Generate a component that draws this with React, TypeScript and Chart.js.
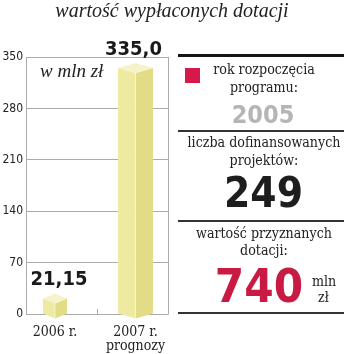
import React, { useEffect, useRef } from "react";
import { Chart, registerables } from "chart.js";

Chart.register(...registerables);

// ---- data ----
const categories: (string | string[])[] = ["2006 r.", ["2007 r.", "prognozy"]];
const values: number[] = [21.15, 335.0];
const valueLabels: string[] = ["21,15", "335,0"];
const yTickStep = 70;
const yMax = 350;
const titleText = "wartość wypłaconych dotacji";
const unitText = "w mln zł";
const startYearLabel = ["rok rozpoczęcia", "programu:"];
const startYear = "2005";
const projectsLabel = ["liczba dofinansowanych", "projektów:"];
const projects = "249";
const grantedLabel = ["wartość przyznanych", "dotacji:"];
const granted = "740";
const grantedUnit = ["mln", "zł"];

// ---- style ----
const barThickness = [24, 35];
const DEPTH = 5;
const FACE_LEFT = "#EEEAA2";
const FACE_RIGHT = "#E3DC86";
const FACE_TOP = "#F6F3CA";
const GRID = "#ababab";
const SANS_C = "'DejaVu Sans Condensed', 'DejaVu Sans', sans-serif";
const SERIF_C = "'DejaVu Serif Condensed', 'DejaVu Serif', serif";
const TIMES = "'Liberation Serif', serif";

const framePlugin = {
  id: "frame",
  beforeDatasetsDraw(chart: any) {
    const { ctx, chartArea } = chart;
    const xs = chart.scales.x;
    ctx.save();
    ctx.strokeStyle = GRID;
    ctx.lineWidth = 1;
    ctx.beginPath();
    const r = Math.round(chartArea.right) + 0.5;
    ctx.moveTo(r, chartArea.top);
    ctx.lineTo(r, chartArea.bottom + 0.5);
    const mid = Math.round(xs.getPixelForValue(0.52)) + 0.5;
    ctx.moveTo(mid, chartArea.bottom - 5);
    ctx.lineTo(mid, chartArea.bottom);
    ctx.stroke();
    ctx.restore();
  },
};

const prismPlugin = {
  id: "prism",
  afterDatasetsDraw(chart: any) {
    const ctx = chart.ctx;
    chart.data.datasets.forEach((ds: any, di: number) => {
      const meta = chart.getDatasetMeta(di);
      meta.data.forEach((el: any) => {
        const { x, y, base, width } = el.getProps(["x", "y", "base", "width"], true);
        const xl = x - width / 2;
        const xr = x + width / 2;
        const d = DEPTH;
        ctx.save();
        ctx.fillStyle = FACE_LEFT;
        ctx.beginPath();
        ctx.moveTo(xl, y);
        ctx.lineTo(x, y + d);
        ctx.lineTo(x, base + d);
        ctx.lineTo(xl, base);
        ctx.closePath();
        ctx.fill();
        ctx.fillStyle = FACE_RIGHT;
        ctx.beginPath();
        ctx.moveTo(x, y + d);
        ctx.lineTo(xr, y);
        ctx.lineTo(xr, base);
        ctx.lineTo(x, base + d);
        ctx.closePath();
        ctx.fill();
        ctx.fillStyle = FACE_TOP;
        ctx.beginPath();
        ctx.moveTo(xl, y);
        ctx.lineTo(x, y - d);
        ctx.lineTo(xr, y);
        ctx.lineTo(x, y + d);
        ctx.closePath();
        ctx.fill();
        ctx.strokeStyle = "rgba(255,255,255,0.6)";
        ctx.lineWidth = 1;
        ctx.beginPath();
        ctx.moveTo(x, y + d);
        ctx.lineTo(x, base + d);
        ctx.stroke();
        ctx.fillStyle = "#1a1a1a";
        ctx.font = `bold 20px ${SANS_C}`;
        ctx.textAlign = "center";
        ctx.textBaseline = "alphabetic";
        ctx.fillText(ds.valueLabel, x + ds.labelDx, y - d - 8);
        ctx.restore();
      });
    });
  },
};

function Txt(props: {
  text: string;
  baseline: number;
  size: number;
  family: string;
  asc: number;
  desc: number;
  left?: number;
  center?: number;
  weight?: string | number;
  italic?: boolean;
  color?: string;
  sx?: number;
}) {
  const { text, baseline, size, family, asc, desc, left, center, weight, italic, color, sx } = props;
  const style: React.CSSProperties = {
    position: "absolute",
    top: baseline - asc * size,
    lineHeight: `${(asc + desc) * size}px`,
    fontSize: size,
    fontFamily: family,
    fontWeight: weight ?? "normal",
    fontStyle: italic ? "italic" : "normal",
    color: color ?? "#222",
    whiteSpace: "nowrap",
  };
  if (sx) {
    style.transform = `scaleX(${sx})`;
    style.transformOrigin = center !== undefined ? "center" : "left";
  }
  if (center !== undefined) {
    style.left = center - 150;
    style.width = 300;
    style.textAlign = "center";
  } else {
    style.left = left;
  }
  return <div style={style}>{text}</div>;
}

const DJ = { asc: 0.928, desc: 0.236 };
const LS = { asc: 0.891, desc: 0.216 };
const SX = 0.94;

export default function App() {
  const ref = useRef<HTMLCanvasElement | null>(null);

  useEffect(() => {
    if (!ref.current) return;
    const labelDx = [4, -2];
    const chart = new Chart(ref.current, {
      type: "bar",
      data: {
        datasets: values.map((v, i) => ({
          data: [{ x: i, y: v }],
          valueLabel: valueLabels[i],
          labelDx: labelDx[i],
          backgroundColor: "rgba(0,0,0,0)",
          borderWidth: 0,
          barThickness: barThickness[i],
          grouped: false,
        })) as any,
      },
      options: {
        animation: false,
        responsive: false,
        devicePixelRatio: 1,
        layout: { padding: { left: 0, right: 182, top: 57, bottom: 0 } },
        plugins: { legend: { display: false }, tooltip: { enabled: false }, title: { display: false } },
        scales: {
          x: {
            type: "linear",
            offset: false,
            min: -0.36,
            max: 1.404,
            grid: { display: false, drawTicks: false },
            border: { display: false },
            afterBuildTicks: (s: any) => {
              s.ticks = categories.map((_, i) => ({ value: i }));
            },
            afterFit: (s: any) => {
              s.height = 40;
            },
            ticks: {
              autoSkip: false,
              maxRotation: 0,
              padding: 11,
              color: "#222",
              font: { family: SERIF_C, size: 14, lineHeight: 1.0 },
              callback: (v: any) => categories[v as number] ?? "",
            },
          },
          y: {
            min: 0,
            max: yMax,
            grid: { color: GRID, lineWidth: 1, drawTicks: false },
            border: { display: true, color: GRID },
            afterFit: (s: any) => {
              s.width = 26;
            },
            ticks: {
              stepSize: yTickStep,
              padding: 3,
              color: "#222",
              font: { family: SANS_C, size: 12 },
            },
          },
        },
      } as any,
      plugins: [framePlugin, prismPlugin],
    });
    return () => chart.destroy();
  }, []);

  const C = 263.5;
  return (
    <div style={{ position: "fixed", left: 0, top: 0, width: 350, height: 354, background: "#fff", overflow: "hidden" }}>
      <canvas ref={ref} width={350} height={354} style={{ position: "absolute", left: 0, top: 0, width: 350, height: 354 }} />
      <Txt text={titleText} baseline={17} size={20} family={TIMES} {...LS} italic center={172} color="#222" />
      <Txt text={unitText} baseline={77} size={19} family={TIMES} {...LS} italic left={40} color="#222" />

      <div style={{ position: "absolute", left: 178, top: 54, width: 166, height: 3, background: "#151515" }} />
      <div style={{ position: "absolute", left: 185, top: 68, width: 15, height: 15, background: "#d6194a" }} />
      <Txt text={startYearLabel[0]} baseline={75} size={15} family={SERIF_C} {...DJ} center={C} sx={SX} />
      <Txt text={startYearLabel[1]} baseline={93} size={15} family={SERIF_C} {...DJ} center={C} sx={SX} />
      <Txt text={startYear} baseline={123} size={25} family={SANS_C} {...DJ} weight="bold" center={263} color="#b5b5b5" />
      <div style={{ position: "absolute", left: 178, top: 130, width: 166, height: 2, background: "#333" }} />
      <Txt text={projectsLabel[0]} baseline={148} size={15} family={SERIF_C} {...DJ} center={C} sx={SX} />
      <Txt text={projectsLabel[1]} baseline={166} size={15} family={SERIF_C} {...DJ} center={C} sx={SX} />
      <Txt text={projects} baseline={208} size={42} family={SANS_C} {...DJ} weight="bold" center={C} color="#1e1e1e" />
      <div style={{ position: "absolute", left: 178, top: 220, width: 166, height: 2, background: "#333" }} />
      <Txt text={grantedLabel[0]} baseline={239} size={15} family={SERIF_C} {...DJ} center={C} sx={SX} />
      <Txt text={grantedLabel[1]} baseline={256} size={15} family={SERIF_C} {...DJ} center={C} sx={SX} />
      <Txt text={granted} baseline={303} size={47} family={SANS_C} {...DJ} weight="bold" center={259} color="#c81a42" />
      <Txt text={grantedUnit[0]} baseline={287} size={15} family={SERIF_C} {...DJ} left={312} sx={SX} />
      <Txt text={grantedUnit[1]} baseline={303} size={15} family={SERIF_C} {...DJ} left={318} sx={SX} />
      <div style={{ position: "absolute", left: 178, top: 312, width: 166, height: 2, background: "#333" }} />
    </div>
  );
}
